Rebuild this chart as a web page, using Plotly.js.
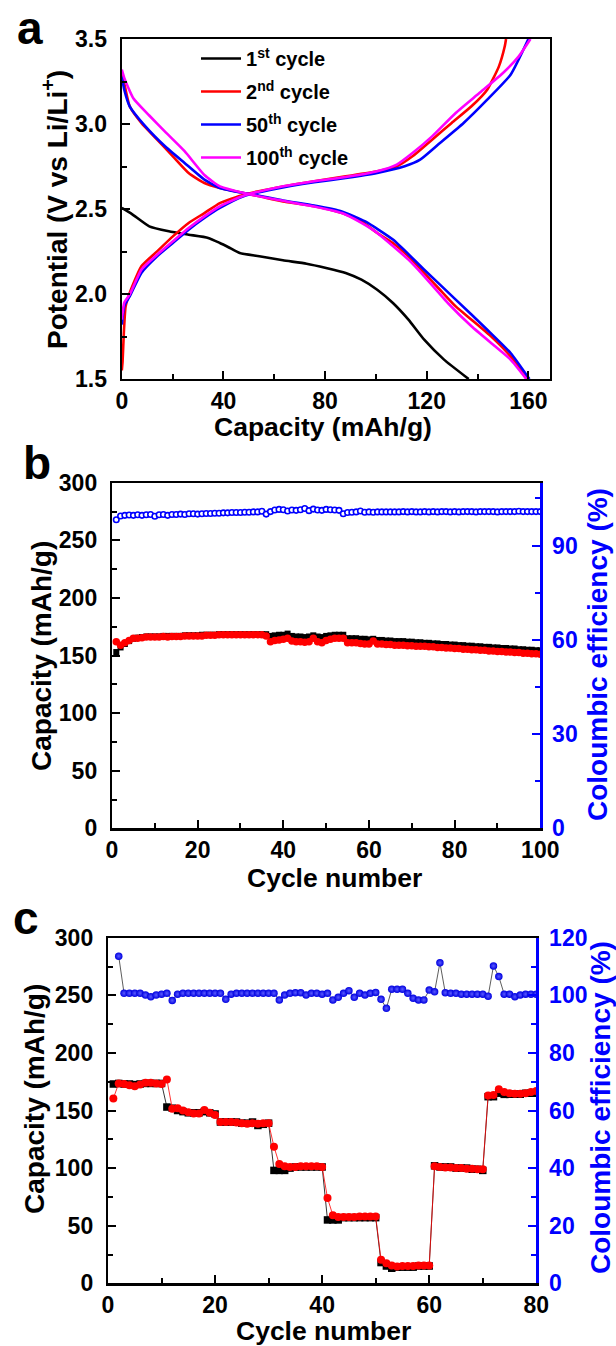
<!DOCTYPE html>
<html><head><meta charset="utf-8">
<script src="https://cdn.plot.ly/plotly-3.0.1.min.js"></script>
<style>html,body{margin:0;padding:0;background:#fff}#chart{width:616px;height:1346px}</style>
</head><body><div id="chart"></div>
<script>
// ---------- Panel a: voltage profiles ----------
const c1DisCap = [0,4,10.8,18.5,26.3,34,38.6,42,46.4,54.1,63.4,72.7,80.4,88.1,94.3,100.5,106.7,112.8,119,126.8,136.5];
const c1DisV   = [2.506,2.47,2.398,2.369,2.349,2.33,2.30,2.275,2.241,2.222,2.198,2.178,2.153,2.124,2.084,2.025,1.947,1.849,1.731,1.614,1.5];
const c2DisCap = [0,0.8,3.1,7.7,13.9,20.1,26.3,32.5,38.6,47.9,54.1,63.4,75.7,86.6,94.3,100.5,106.7,112.8,119,125.2,131.4,137.6,145.3,153,159.4];
const c2DisV   = [3.30,3.25,3.104,3.006,2.908,2.81,2.712,2.653,2.624,2.594,2.575,2.545,2.516,2.476,2.427,2.359,2.30,2.222,2.124,2.025,1.927,1.849,1.751,1.633,1.5];
const c2ChCap  = [0,0.3,0.8,1.5,3.1,7.7,13.9,20.1,26.3,32.5,38.6,47.9,60.3,75.7,88.1,100.5,108.2,114.4,122.1,129.8,137.6,143.8,148.4,150.7,151.2];
const c2ChV    = [1.55,1.6,1.77,1.927,2.006,2.163,2.251,2.339,2.418,2.476,2.535,2.584,2.624,2.663,2.692,2.722,2.751,2.81,2.908,3.006,3.104,3.202,3.339,3.457,3.5];
const c50DisCap = [0,1,3.1,9.3,17,24.7,32.5,38.6,47.9,54.1,63.4,75.7,86.6,95.8,106.7,119,131.4,143.8,153,160.4];
const c50DisV   = [3.28,3.2,3.104,2.986,2.869,2.771,2.673,2.624,2.594,2.578,2.55,2.52,2.486,2.427,2.32,2.143,1.967,1.79,1.653,1.5];
const c50ChCap  = [0,1,3.1,7.7,13.9,20.1,26.3,32.5,38.6,47.9,60.3,75.7,88.1,100.5,111.3,117.4,125.2,134.5,143.8,153,160];
const c50ChV    = [1.82,1.93,1.986,2.124,2.222,2.30,2.378,2.447,2.506,2.575,2.618,2.657,2.682,2.712,2.751,2.79,2.888,3.006,3.143,3.29,3.5];
const c100DisCap = [0,1,4.6,10.8,17,24.7,32.5,38.6,51,63.4,75.7,86.6,94.3,100.5,112.8,119,128.3,137.6,146.9,153,159.2];
const c100DisV   = [3.32,3.27,3.15,3.05,2.955,2.84,2.70,2.633,2.584,2.548,2.515,2.476,2.418,2.359,2.202,2.104,1.947,1.81,1.692,1.614,1.5];
const c100ChCap  = [0,1,3.1,7.7,13.9,20.1,26.3,32.5,38.6,47.9,60.3,75.7,88.1,100.5,108.2,114.4,122.1,131.4,140.7,150,156.2,160.8];
const c100ChV    = [1.85,1.95,1.996,2.143,2.231,2.31,2.388,2.457,2.516,2.578,2.624,2.663,2.688,2.722,2.761,2.829,2.927,3.065,3.182,3.3,3.398,3.5];
const legendNames = ['1<sup>st</sup> cycle','2<sup>nd</sup> cycle','50<sup>th</sup> cycle','100<sup>th</sup> cycle'];

// ---------- Panel b: cycling at constant rate ----------
const cycB = [1,2,3,4,5,6,7,8,9,10,11,12,13,14,15,16,17,18,19,20,21,22,23,24,25,26,27,28,29,30,31,32,33,34,35,36,37,38,39,40,41,42,43,44,45,46,47,48,49,50,51,52,53,54,55,56,57,58,59,60,61,62,63,64,65,66,67,68,69,70,71,72,73,74,75,76,77,78,79,80,81,82,83,84,85,86,87,88,89,90,91,92,93,94,95,96,97,98,99,100];
const chargeB = [153,157,160,162.5,164.5,165.5,166,166.5,166.5,166.5,
  166.5,167,167,167,167,167,167.5,167.5,167.5,167.5,
  168,168,168,168,168.5,168.5,168.5,168.5,168.5,168.5,
  168.5,168.5,168.5,168.5,168.5,168.5,167,167.5,168,168,
  169,167,166.5,166.5,166,166.5,167.5,166.5,166,167,
  167.5,168,168,168,165,165,165,164.5,164.5,164,
  164.5,163.5,163.5,163,163,162.5,162.5,162.5,162,162,
  161.5,161.5,161,161,160.5,160.5,160,160,159.5,159.5,
  159,159,158.5,158.5,158,158,157.5,157.5,157,157,
  156.5,156.5,156,156,155.5,155.5,155,155,154.5,154.5];
const dischargeB = [162,159,161,163,165,165,165.5,166,166,166,
  166,166.5,166,166.5,166.5,166.5,167,167,167,167,
  167,167.5,167.5,167.5,168,168,168,168,168,168,
  168,168,168,168,168,167,162,163,163.5,164,
  165,162.5,162,162,161.5,162,165,162,161,163,
  164,165,165,165,161,161,161,160.5,160,160,
  162.5,160,160,159.5,159.5,159,159,159,158.5,158.5,
  158,158,158,157.5,157.5,157,157,156.5,156.5,156,
  156,155.5,155.5,155,155,154.5,154.5,154,154,153.5,
  153.5,153,153,152.5,152.5,152,152,151.5,151.5,151];
const ceB = [98.2,99.4,99.6,99.7,99.6,99.8,99.6,99.8,99.9,99.3,
  99.8,99.9,99.6,99.9,99.9,100,99.9,100.1,100.1,100,
  100.1,100.2,100.2,100.3,100.3,100.4,100.4,100.5,100.5,100.5,
  100.6,100.6,100.7,100.7,100.9,100,100.8,101.3,101.5,101.4,
  101,101.3,101.2,101.4,101.8,101.1,101.6,101.3,101.2,101.5,
  101.4,101.3,101.2,100.1,100.5,100.6,100.7,101,100.6,100.7,
  100.6,100.7,100.7,100.7,100.7,100.7,100.7,100.8,100.7,100.8,
  100.7,100.7,100.8,100.7,100.8,100.7,100.8,100.8,100.7,100.8,
  100.7,100.8,100.8,100.8,100.7,100.8,100.8,100.8,100.8,100.7,
  100.8,100.8,100.8,100.8,100.9,100.8,100.8,100.8,100.8,100.8];

// ---------- Panel c: rate capability ----------
const cycC = [1,2,3,4,5,6,7,8,9,10,11,12,13,14,15,16,17,18,19,20,21,22,23,24,25,26,27,28,29,30,31,32,33,34,35,36,37,38,39,40,41,42,43,44,45,46,47,48,49,50,51,52,53,54,55,56,57,58,59,60,61,62,63,64,65,66,67,68,69,70,71,72,73,74,75,76,77,78,79,80];
const chargeC = [173,173.5,173,173,172.5,173,173.5,173.5,173.5,173.5,
  153,152,150,149,148,148,148,149,148,147,
  140,140,140,140,139,139,140,137,138,139,
  98,98,98,100,101,101,101,101,101,101,
  55,55,55,57,57,57,57,57,57,57,
  18,15,13,14,14,14,14,15,15,15,
  102,101,101,101,100,100,100,99,99,98,
  162,162,165,164,164,164,164,165,165,165];
const dischargeC = [160.5,173.5,173,172,171,172.5,174,174,173.5,173,
  177,151.5,152,150,148.5,147.5,147.5,150.5,148,146,
  140,140,140,139.5,139,138.5,139,138.5,139,139,
  118.5,103.5,101.5,101,101,101.5,101.5,101.5,101.5,101,
  74,59,57.5,57.5,57.5,57.5,58,58,58,58,
  20.5,17.5,15.5,14.5,15,15,15,15.5,15.5,15.5,
  101.5,101,100.5,100.5,100,100,99.5,99.5,99,99,
  163,163.5,168.5,166,165,164.5,164.5,165,166,167];
const cycCeC = [2,3,4,5,6,7,8,9,10,11,12,13,14,15,16,17,18,19,20,21,22,23,24,25,26,27,28,29,30,31,32,33,34,35,36,37,38,39,40,41,42,43,44,45,46,47,48,49,50,51,52,53,54,55,56,57,58,59,60,61,62,63,64,65,66,67,68,69,70,71,72,73,74,75,76,77,78,79,80];
const ceC = [113.6,100.7,100.7,100.7,100.7,100.1,99.5,100.1,100.4,
  100.7,98.2,100.4,100.7,100.7,100.7,100.7,100.7,100.7,100.7,
  100.7,98.6,100.4,100.7,100.7,100.7,100.7,100.7,100.7,100.7,
  100.7,98.4,100.1,100.7,100.9,100.9,100.1,100.7,100.7,100.4,
  100.7,98.4,99.3,100.7,101.6,99.3,100.7,100.1,100.7,101,
  98.6,95.5,102.1,102.1,102.1,100.7,99,98.4,98.4,101.8,
  101.2,111.3,100.9,100.7,100.7,100.4,100.4,100.4,100.4,100.4,
  99.7,110.2,106.5,100.4,100.4,99.5,100.1,100.4,100.4,100.4];

// axis titles
const titleA_x = 'Capacity (mAh/g)';
const titleA_y = 'Potential (V vs Li/Li<sup>+</sup>)';
const titleCap = 'Capacity (mAh/g)';
const titleCyc = 'Cycle number';
const titleCE = 'Coloumbic efficiency (%)';

// ---------- styling ----------
const FONT = 'Liberation Sans, Arial, Helvetica, sans-serif';
const BLUE = '#0000FF', RED = '#FF0000', MAG = '#FF00FF';
const tickFont = (c) => ({family: FONT, size: 23, color: c || '#000', weight: 'bold'});

function joinSeg(a, b) { return a.concat([null], b); }

const traces = [];
const cycCols = ['#000000', RED, BLUE, MAG];
const segX = [c1DisCap, joinSeg(c2DisCap, c2ChCap), joinSeg(c50DisCap, c50ChCap), joinSeg(c100DisCap, c100ChCap)];
const segY = [c1DisV, joinSeg(c2DisV, c2ChV), joinSeg(c50DisV, c50ChV), joinSeg(c100DisV, c100ChV)];
for (let i = 0; i < 4; i++) {
  traces.push({x: segX[i], y: segY[i], xaxis: 'x', yaxis: 'y', type: 'scatter', mode: 'lines',
    name: legendNames[i], legendgroup: 'g' + i, line: {color: cycCols[i], width: 2.6, shape: 'spline', smoothing: 0.5}, connectgaps: false});
}
// panel b
traces.push({x: cycB, y: chargeB, xaxis: 'x2', yaxis: 'y2', mode: 'lines+markers', showlegend: false,
  line: {color: '#000', width: 1}, marker: {symbol: 'square', size: 6, color: '#000'}});
traces.push({x: cycB, y: dischargeB, xaxis: 'x2', yaxis: 'y2', mode: 'lines+markers', showlegend: false,
  line: {color: RED, width: 1}, marker: {symbol: 'circle', size: 7.5, color: RED}});
traces.push({x: cycB, y: ceB, xaxis: 'x2', yaxis: 'y3', mode: 'lines+markers', showlegend: false,
  line: {color: BLUE, width: 1}, marker: {symbol: 'circle', size: 5.5, color: '#ffffff', line: {color: BLUE, width: 1.6}}});
// panel c
traces.push({x: cycC, y: chargeC, xaxis: 'x3', yaxis: 'y4', mode: 'lines+markers', showlegend: false,
  line: {color: '#000', width: 0.8}, marker: {symbol: 'square', size: 7.5, color: '#000'}});
traces.push({x: cycC, y: dischargeC, xaxis: 'x3', yaxis: 'y4', mode: 'lines+markers', showlegend: false,
  line: {color: RED, width: 0.8}, marker: {symbol: 'circle', size: 8, color: RED}});
traces.push({x: cycCeC, y: ceC, xaxis: 'x3', yaxis: 'y5', mode: 'lines+markers', showlegend: false,
  line: {color: '#333', width: 0.8}, marker: {symbol: 'circle', size: 7.5, color: '#0000e0', gradient: {type: 'radial', color: '#5a5aff'}}});

function xax(domain, range, dtick, minor, anchor) {
  return {domain: domain, range: range, anchor: anchor, showgrid: false, zeroline: false,
    showline: true, linecolor: '#000', linewidth: 2.2, mirror: true,
    ticks: 'inside', ticklen: 8, tickwidth: 2, tickcolor: '#000', dtick: dtick, tick0: 0,
    minor: {dtick: minor, ticks: 'inside', ticklen: 5, tickwidth: 2, tickcolor: '#000'},
    tickfont: tickFont(), ticklabelstandoff: 0};
}
function yax(domain, range, dtick, minor, anchor, opts) {
  const o = Object.assign({color: '#000', side: 'left', mirror: false, labelstandoff: 8, fmt: ''}, opts || {});
  return {domain: domain, range: range, anchor: anchor, side: o.side, showgrid: false, zeroline: false,
    showline: true, linecolor: o.color, linewidth: 2.2, mirror: o.mirror,
    ticks: 'inside', ticklen: 8, tickwidth: 2, tickcolor: o.color, dtick: dtick, tick0: 0, tickformat: o.fmt,
    minor: {dtick: minor, ticks: 'inside', ticklen: 5, tickwidth: 2, tickcolor: o.color},
    tickfont: tickFont(o.color), ticklabelstandoff: o.labelstandoff};
}

const H = 1346, W = 616;
const dA = {x: [121.8 / W, 550 / W], y: [1 - 379 / H, 1 - 39 / H]};
const dB = {x: [112 / W, 540.3 / W], y: [1 - 828.3 / H, 1 - 482.7 / H]};
const dC = {x: [108 / W, 536.3 / W], y: [1 - 1283.3 / H, 1 - 937.7 / H]};

const y3 = yax(dB.y, [0, 110], 30, 15, 'x2', {color: BLUE, side: 'right', labelstandoff: 5});
y3.overlaying = 'y2';
const y5 = yax(dC.y, [0, 120], 20, 10, 'x3', {color: BLUE, side: 'right', labelstandoff: 6});
y5.overlaying = 'y4';

function label(text, px, py, opts) {
  const o = Object.assign({size: 28, color: '#000', angle: 0}, opts || {});
  return {text: text, xref: 'paper', yref: 'paper', x: px / W, y: 1 - py / H, xanchor: 'center', yanchor: 'middle',
    showarrow: false, textangle: o.angle, font: {family: FONT, size: o.size, color: o.color, weight: 'bold'}};
}

const layout = {
  width: W, height: H,
  margin: {l: 0, r: 0, t: 0, b: 0},
  paper_bgcolor: '#fff', plot_bgcolor: '#fff',
  font: {family: FONT, color: '#000'},
  showlegend: true,
  legend: {x: 196 / W, y: 1 - 39 / H, xanchor: 'left', yanchor: 'top', bgcolor: 'rgba(0,0,0,0)',
    font: {family: FONT, size: 20, color: '#000', weight: 'bold'}, traceorder: 'grouped', tracegroupgap: 4,
    itemwidth: 40},
  xaxis: xax(dA.x, [0, 168.5], 40, 20, 'y'),
  yaxis: yax(dA.y, [1.5, 3.5], 0.5, 0.25, 'x', {mirror: true, fmt: '.1f'}),
  xaxis2: xax(dB.x, [0, 100], 20, 10, 'y2'),
  yaxis2: yax(dB.y, [0, 300], 50, 25, 'x2'),
  yaxis3: y3,
  xaxis3: xax(dC.x, [0, 80], 20, 10, 'y4'),
  yaxis4: yax(dC.y, [0, 300], 50, 25, 'x3'),
  yaxis5: y5,
  annotations: [
    label('a', 30, 28, {size: 46}),
    label('b', 37, 463, {size: 46}),
    label('c', 26, 918, {size: 46}),
    label(titleA_x, 323, 427, {size: 26.5}),
    label(titleA_y, 55, 210, {angle: -90}),
    label(titleCap, 41, 656, {angle: -90}),
    label(titleCE, 597, 655, {angle: -90, color: BLUE}),
    label(titleCyc, 334, 878, {size: 26.5}),
    label(titleCap, 34, 1099, {angle: -90}),
    label(titleCE, 600, 1108, {angle: -90, color: BLUE}),
    label(titleCyc, 323, 1331, {size: 26.5})
  ]
};

Plotly.newPlot('chart', traces, layout, {displayModeBar: false, staticPlot: true});
</script>
</body></html>
